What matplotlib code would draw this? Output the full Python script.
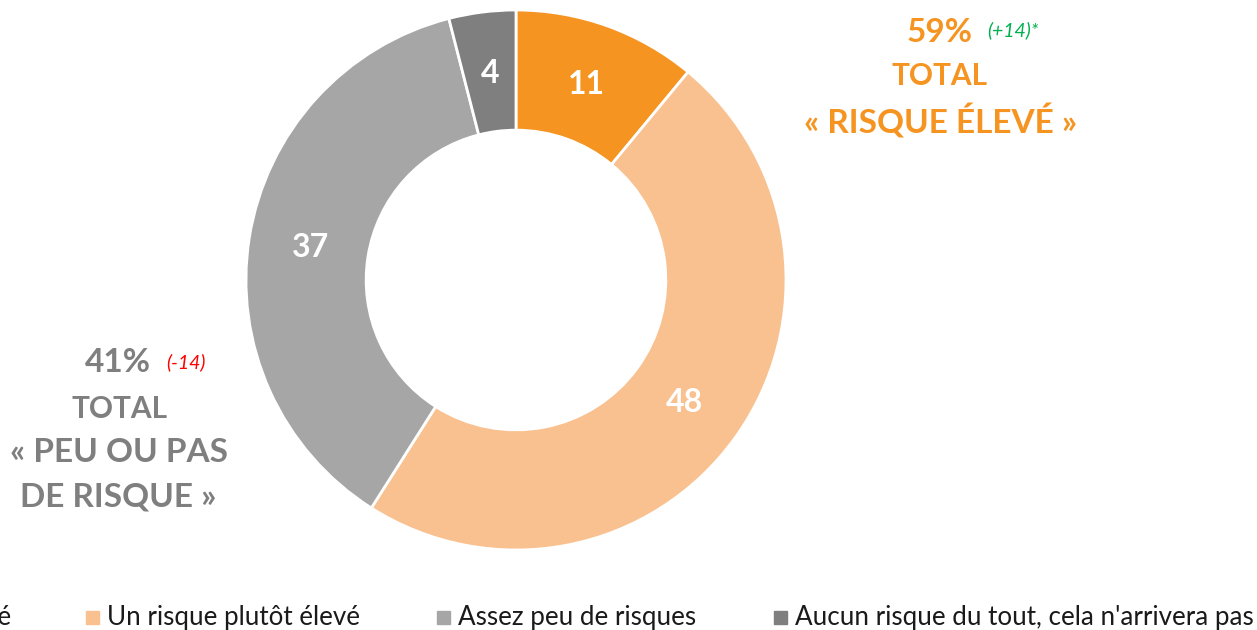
import matplotlib.pyplot as plt
from matplotlib.patches import Rectangle

plt.rcParams['font.family'] = ['Lato', 'DejaVu Sans']

# data
labels = ["Un risque très élevé", "Un risque plutôt élevé",
          "Assez peu de risques", "Aucun risque du tout, cela n'arrivera pas"]
values = [11, 48, 37, 4]
colors = ["#F59420", "#F9C18F", "#A6A6A6", "#7F7F7F"]

total_high = 59
total_high_delta = "(+14)*"
total_low = 41
total_low_delta = "(-14)"

W, H = 1257, 630
fig = plt.figure(figsize=(W / 100, H / 100), dpi=100)

# donut axes: centre (516, 280) px, radius 270 px
cx, cy, r = 516, 280, 270
ax = fig.add_axes([(cx - r) / W, (H - cy - r) / H, 2 * r / W, 2 * r / H])
wedges, texts = ax.pie(values, colors=colors, startangle=90, counterclock=False,
                       labels=[str(v) for v in values], labeldistance=0.77,
                       wedgeprops=dict(width=0.445, edgecolor="white", linewidth=2),
                       textprops=dict(color="white", fontsize=23, fontweight="bold",
                                      ha="center", va="center"))
ax.set_xlim(-1, 1)
ax.set_ylim(-1, 1)
ax.set_aspect("equal")
ax.axis("off")

# totals
orange = "#F59420"
grey = "#7F7F7F"
fig.text(940 / W, 1 - 32 / H, f"{total_high}%", color=orange, fontsize=24,
         fontweight="bold", ha="center", va="center")
fig.text(1013 / W, 1 - 30 / H, total_high_delta, color="#00B050", fontsize=14,
         style="italic", ha="center", va="center")
fig.text(940 / W, 1 - 76 / H, "TOTAL", color=orange, fontsize=21.5,
         fontweight="bold", ha="center", va="center")
fig.text(941 / W, 1 - 121 / H, "« RISQUE ÉLEVÉ »", color=orange, fontsize=24,
         fontweight="bold", ha="center", va="center")

fig.text(118 / W, 1 - 363 / H, f"{total_low}%", color=grey, fontsize=24,
         fontweight="bold", ha="center", va="center")
fig.text(186 / W, 1 - 362 / H, total_low_delta, color="#FF0000", fontsize=14,
         style="italic", ha="center", va="center")
fig.text(120 / W, 1 - 409 / H, "TOTAL", color=grey, fontsize=21.5,
         fontweight="bold", ha="center", va="center")
fig.text(119 / W, 1 - 453 / H, "« PEU OU PAS", color=grey, fontsize=24,
         fontweight="bold", ha="center", va="center")
fig.text(118 / W, 1 - 497 / H, "DE RISQUE »", color=grey, fontsize=24,
         fontweight="bold", ha="center", va="center")

# legend (first entry runs off the left edge, as in the original)
leg_y = 1 - 617 / H
text_x = [None, 107, 458, 795]
sq = 13
for lab, col, tx in zip(labels, colors, text_x):
    if tx is None:
        fig.text(11 / W, leg_y, lab, fontsize=18.7, color="#1a1a1a", ha="right", va="center")
        continue
    fig.patches.append(Rectangle(((tx - 21) / W, leg_y - sq / 2 / H), sq / W, sq / H,
                                 transform=fig.transFigure, color=col))
    fig.text(tx / W, leg_y, lab, fontsize=18.7, color="#1a1a1a", ha="left", va="center")

fig.savefig("out.png", dpi=100)
